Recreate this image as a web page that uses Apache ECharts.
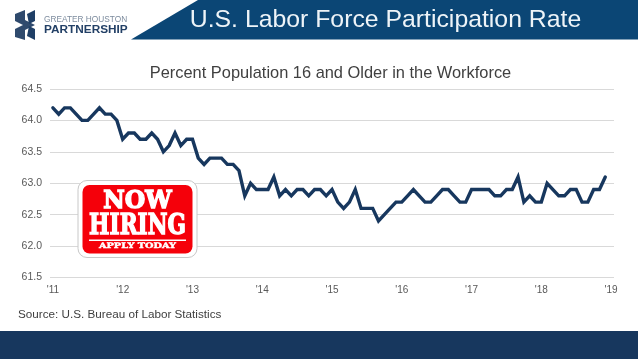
<!DOCTYPE html>
<html><head><meta charset="utf-8">
<style>html,body{margin:0;padding:0;background:#fff}#c{width:638px;height:359px}</style>
<script src="https://cdn.jsdelivr.net/npm/echarts@6/dist/echarts.min.js"></script>
</head><body><div id="c"></div>
<script>
const yearLabels = ["'11","'12","'13","'14","'15","'16","'17","'18","'19"];
const rate2011 = [64.2,64.1,64.2,64.2,64.1,64.0,64.0,64.1,64.2,64.1,64.1,64.0];
const rate2012 = [63.7,63.8,63.8,63.7,63.7,63.8,63.7,63.5,63.6,63.8,63.6,63.7];
const rate2013 = [63.7,63.4,63.3,63.4,63.4,63.4,63.3,63.3,63.2,62.8,63.0,62.9];
const rate2014 = [62.9,62.9,63.1,62.8,62.9,62.8,62.9,62.9,62.8,62.9,62.9,62.8];
const rate2015 = [62.9,62.7,62.6,62.7,62.9,62.6,62.6,62.6,62.4,62.5,62.6,62.7];
const rate2016 = [62.7,62.8,62.9,62.8,62.7,62.7,62.8,62.9,62.9,62.8,62.7,62.7];
const rate2017 = [62.9,62.9,62.9,62.9,62.8,62.8,62.9,62.9,63.1,62.7,62.8,62.7];
const rate2018 = [62.7,63.0,62.9,62.8,62.8,62.9,62.9,62.7,62.7,62.9,62.9,63.1];
const years = [rate2011,rate2012,rate2013,rate2014,rate2015,rate2016,rate2017,rate2018];

const categories = [];
const values = [];
years.forEach((yr,i)=>yr.forEach((v,m)=>{categories.push(m===0?yearLabels[i]:'');values.push(v);}));
categories.push(yearLabels[8]); values.push(null);

const font = '"Liberation Sans", Arial, sans-serif';
const serif = '"DejaVu Serif", serif';
const navy = '#17375e', band = '#0b4675';
const chart = echarts.init(document.getElementById('c'),null,{renderer:'canvas'});
chart.setOption({
  animation:false,
  backgroundColor:'#fff',
  title:{text:'Percent Population 16 and Older in the Workforce',left:325.5,top:60,textAlign:'center',
    textStyle:{fontFamily:font,fontSize:16.4,fontWeight:'normal',color:'#404040'}},
  grid:{left:50,right:24,top:89,bottom:81.5,containLabel:false},
  xAxis:{type:'category',data:categories,boundaryGap:true,
    axisLine:{show:false},axisTick:{show:false},
    axisLabel:{interval:(i)=>i%12===0,hideOverlap:false,formatter:(v)=>v,fontFamily:font,fontSize:10,color:'#595959',margin:8,showMinLabel:true,showMaxLabel:true},
    splitLine:{show:false}},
  yAxis:{type:'value',min:61.5,max:64.5,interval:0.5,
    axisLine:{show:false},axisTick:{show:false},
    axisLabel:{formatter:(v)=>v.toFixed(1),fontFamily:font,fontSize:10.5,color:'#595959',margin:8},
    splitLine:{lineStyle:{color:'#d9d9d9',width:1}}},
  series:[{type:'line',data:values,showSymbol:false,symbol:'none',smooth:false,connectNulls:false,z:5,
    lineStyle:{color:navy,width:3.4,join:'miter',cap:'round'}}],
  graphic:[
    {type:'polygon',z:10,shape:{points:[[131,39.5],[198,0],[638,0],[638,39.5]]},style:{fill:band}},
    {type:'text',z:11,x:385.5,y:20,style:{text:'U.S. Labor Force Participation Rate',font:'24.8px '+font,fill:'#eef4f8',align:'center',verticalAlign:'middle'}},
    {type:'rect',z:10,shape:{x:0,y:331,width:638,height:28},style:{fill:navy}},
    {type:'text',z:11,x:18,y:314.5,style:{text:'Source: U.S. Bureau of Labor Statistics',font:'11.7px '+font,fill:'#404040',align:'left',verticalAlign:'middle'}},
    {type:'polygon',z:11,shape:{points:[[15,14],[25,10],[25,20],[35,25],[25,30],[25,40],[15,37],[15,29],[23,25],[15,21]]},style:{fill:'#2f4a6d'}},
    {type:'polygon',z:11,shape:{points:[[27,14],[35,10],[35,21],[29,24]]},style:{fill:'#1f3f66'}},
    {type:'polygon',z:11,shape:{points:[[29,26],[35,29],[35,40],[27,36]]},style:{fill:'#1f3f66'}},
    {type:'text',z:11,x:44,y:19.5,style:{text:'GREATER HOUSTON',font:'8.3px '+font,fill:'#7d8c9e',align:'left',verticalAlign:'middle'}},
    {type:'text',z:11,x:44,y:30,style:{text:'PARTNERSHIP',font:'bold 11.8px '+font,fill:'#234066',align:'left',verticalAlign:'middle'}},
    {type:'rect',z:12,shape:{x:78,y:180.5,width:119,height:77,r:9},style:{fill:'#fff',stroke:'#c8c8c8',lineWidth:1}},
    {type:'rect',z:13,shape:{x:82.5,y:185,width:110,height:68.5,r:7},style:{fill:'#f5000a'}},
    {type:'text',z:14,x:137.5,y:201,scaleX:0.94,style:{text:'NOW',font:'900 25px '+serif,fill:'#fff',stroke:'#fff',lineWidth:1.4,align:'center',verticalAlign:'middle'}},
    {type:'text',z:14,x:137.5,y:227,scaleX:0.8,style:{text:'HIRING',font:'900 27px '+serif,fill:'#fff',stroke:'#fff',lineWidth:1.4,align:'center',verticalAlign:'middle'}},
    {type:'rect',z:14,shape:{x:89,y:239.5,width:97,height:1.5},style:{fill:'#fff'}},
    {type:'text',z:14,x:137.5,y:246.5,scaleX:1.3,style:{text:'APPLY TODAY',font:'900 7.5px '+serif,fill:'#fff',stroke:'#fff',lineWidth:0.4,align:'center',verticalAlign:'middle'}}
  ]
});
</script></body></html>
